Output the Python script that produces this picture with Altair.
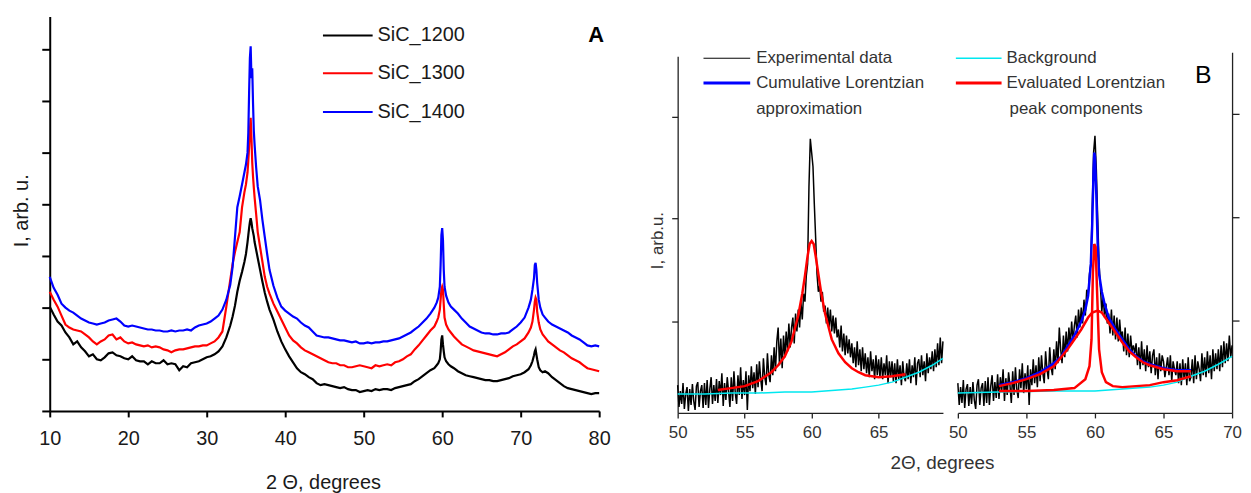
import altair as alt
import pandas as pd

W, H = 1243, 485

# ---------------- Panel A data (2 theta, intensity in arb. units) ----------------
X_A = [10, 10.5, 11, 11.5, 12, 12.5, 13, 13.5, 14, 14.5, 15, 15.5, 16, 16.5, 17, 17.5, 18, 18.5, 19, 19.5,
       20, 20.5, 21, 21.5, 22, 22.5, 23, 23.5, 24, 24.5, 25, 25.5, 26, 26.5, 27, 27.5, 28, 28.5, 29, 29.5,
       30, 30.5, 31, 31.5, 32,
       32.5, 33, 33.3, 33.6, 33.9, 34.2, 34.5, 34.8, 35.0, 35.2, 35.3, 35.4, 35.5, 35.6, 35.7, 35.8, 35.9,
       36.0, 36.1, 36.3, 36.5, 36.8, 37.1, 37.4, 37.7, 38.0, 38.5,
       39, 39.5, 40, 40.5, 41, 41.5, 42, 42.5, 43, 43.5, 44, 44.5, 45, 45.5, 46, 46.5, 47, 47.5, 48, 48.5,
       49, 49.5, 50, 50.5, 51, 51.5, 52, 52.5, 53, 53.5, 54, 54.5, 55, 55.5, 56, 56.5, 57, 57.5, 58, 58.5,
       59, 59.3, 59.5, 59.7, 59.8, 59.9, 60.0, 60.1, 60.2, 60.3, 60.5, 60.8, 61.1, 61.5,
       62, 62.5, 63, 63.5, 64, 64.5, 65, 65.5, 66, 66.5, 67, 67.5, 68, 68.5, 69, 69.5, 70, 70.5,
       71, 71.3, 71.5, 71.7, 71.8, 71.9, 72.0, 72.1, 72.3, 72.5, 72.8, 73.1, 73.5,
       74, 74.5, 75, 75.5, 76, 76.5, 77, 77.5, 78, 78.5, 79, 79.5, 80]

SIC_1200 = [105, 97, 90, 86, 79, 74, 67, 70, 64, 60, 55, 57, 52, 51, 54, 58, 59, 56, 55, 53,
            52, 55, 51, 50, 50, 47, 50, 48, 48, 51, 47, 48, 47, 41, 45, 44, 48, 49, 50, 52,
            54, 55, 57, 60, 65,
            74, 86, 95, 106, 120, 131, 140, 150, 158, 170, 177, 184, 190, 194, 190, 184, 180,
            176, 170, 162, 154, 142, 130, 119, 110, 102, 92,
            80, 70, 62, 55, 49, 43, 39, 37, 34, 32, 28, 26, 27, 26, 25, 24, 23, 24, 22, 21,
            21, 19, 20, 21, 20, 22, 21, 22, 22, 21, 23, 24, 25, 26, 27, 30, 32, 35, 38, 41,
            43, 46, 48, 52, 60, 72, 76, 67, 60, 54, 50, 47, 45, 43,
            40, 38, 36, 35, 34, 33, 32, 31, 31, 30, 30, 31, 32, 33, 35, 36, 37, 39,
            42, 46, 50, 56, 60, 62, 57, 52, 44, 41, 39, 40, 38,
            34, 31, 28, 25, 23, 22, 21, 20, 19, 18, 17, 18, 18]

SIC_1300 = [120, 112, 105, 96, 87, 84, 82, 81, 80, 77, 74, 70, 67, 70, 72, 76, 77, 72, 74, 70,
            68, 69, 67, 66, 65, 66, 64, 65, 64, 62, 61, 59, 61, 62, 62, 63, 64, 65, 65, 66,
            66, 68, 70, 74, 80,
            105, 132, 148, 160, 170, 180, 205, 220, 228, 240, 252, 265, 282, 295, 275, 250, 236,
            225, 215, 198, 180, 165, 150, 135, 125, 118, 108,
            100, 92, 84, 76, 71, 68, 64, 61, 59, 57, 55, 53, 51, 49, 48, 48, 46, 46, 44, 44,
            45, 46, 45, 44, 43, 46, 45, 46, 47, 46, 49, 50, 52, 55, 57, 62, 66, 71, 76, 81,
            85, 90, 94, 102, 112, 122, 125, 122, 107, 94, 87, 82, 79, 75,
            71, 67, 65, 63, 61, 60, 59, 58, 57, 56, 55, 57, 59, 62, 65, 67, 70, 73,
            79, 84, 90, 102, 110, 114, 112, 100, 89, 82, 77, 74, 70,
            67, 64, 61, 59, 56, 53, 51, 49, 46, 43, 42, 41, 40]

SIC_1400 = [135, 124, 117, 108, 104, 101, 99, 96, 93, 91, 89, 88, 87, 88, 89, 91, 92, 93, 90, 86,
            85, 86, 85, 84, 83, 82, 82, 81, 81, 80, 80, 81, 80, 81, 81, 82, 81, 84, 86, 87,
            88, 90, 93, 96, 102,
            112, 127, 145, 175, 205, 216, 228, 240, 248, 260, 280, 320, 355, 367, 335, 345, 310,
            282, 268, 245, 226, 212, 192, 175, 158, 142, 126,
            114, 105, 101, 98, 95, 93, 89, 86, 84, 80, 76, 75, 74, 74, 73, 72, 71, 71, 70, 69,
            70, 68, 68, 69, 68, 69, 69, 70, 70, 71, 72, 73, 75, 77, 79, 82, 85, 89, 93, 98,
            104, 109, 114, 125, 147, 177, 184, 172, 142, 125, 116, 109, 105, 102,
            98, 93, 89, 85, 83, 81, 79, 78, 78, 77, 77, 78, 78, 79, 82, 85, 89, 94,
            104, 112, 122, 134, 147, 149, 142, 129, 112, 104, 97, 94, 90,
            87, 85, 83, 81, 79, 76, 74, 72, 69, 66, 65, 66, 65]

SERIES_A = ["SiC_1200", "SiC_1300", "SiC_1400"]
COLORS_A = ["#000000", "#ff0000", "#0000ff"]

# ---------------- Panel B data ----------------
X_B = [50.0, 50.1, 50.2, 50.3, 50.4, 50.5, 50.6, 50.7, 50.8, 50.9,
       51.0, 51.1, 51.2, 51.3, 51.4, 51.5, 51.6, 51.7, 51.8, 51.9,
       52.0, 52.1, 52.2, 52.3, 52.4, 52.5, 52.6, 52.7, 52.8, 52.9,
       53.0, 53.1, 53.2, 53.3, 53.4, 53.5, 53.6, 53.7, 53.8, 53.9,
       54.0, 54.1, 54.2, 54.3, 54.4, 54.5, 54.6, 54.7, 54.8, 54.9,
       55.0, 55.1, 55.2, 55.3, 55.4, 55.5, 55.6, 55.7, 55.8, 55.9,
       56.0, 56.1, 56.2, 56.3, 56.4, 56.5, 56.6, 56.7, 56.8, 56.9,
       57.0, 57.1, 57.2, 57.3, 57.4, 57.5, 57.6, 57.7, 57.8, 57.9,
       58.0, 58.1, 58.2, 58.3, 58.4, 58.5, 58.6, 58.7, 58.8, 58.9,
       59.0, 59.1, 59.2, 59.3, 59.4, 59.5, 59.6, 59.7, 59.8, 59.9,
       60.0, 60.1, 60.2, 60.3, 60.4, 60.5, 60.6, 60.7, 60.8, 60.9,
       61.0, 61.1, 61.2, 61.3, 61.4, 61.5, 61.6, 61.7, 61.8, 61.9,
       62.0, 62.1, 62.2, 62.3, 62.4, 62.5, 62.6, 62.7, 62.8, 62.9,
       63.0, 63.1, 63.2, 63.3, 63.4, 63.5, 63.6, 63.7, 63.8, 63.9,
       64.0, 64.1, 64.2, 64.3, 64.4, 64.5, 64.6, 64.7, 64.8, 64.9,
       65.0, 65.1, 65.2, 65.3, 65.4, 65.5, 65.6, 65.7, 65.8, 65.9,
       66.0, 66.1, 66.2, 66.3, 66.4, 66.5, 66.6, 66.7, 66.8, 66.9,
       67.0, 67.1, 67.2, 67.3, 67.4, 67.5, 67.6, 67.7, 67.8, 67.9,
       68.0, 68.1, 68.2, 68.3, 68.4, 68.5, 68.6, 68.7, 68.8, 68.9,
       69.0, 69.1, 69.2, 69.3, 69.4, 69.5, 69.6, 69.7, 69.8, 69.9,
       70.0]

EXP_B1 = [28, 6, 22, 9, 30, 4, 19, 26, 2, 24,
          8, 29, 12, 3, 27, 31, 6, 22, 28, 5,
          30, 8, 33, 5, 24, 36, 9, 28, 12, 34,
          10, 32, 18, 40, 7, 30, 13, 36, 22, 6,
          36, 12, 42, 20, 9, 38, 18, 46, 14, 33,
          18, 42, 3, 38, 22, 47, 25, 41, 19, 49,
          26, 52, 34, 22, 55, 36, 28, 60, 38, 31,
          58, 38, 66, 42, 72, 86, 48, 75, 45, 78,
          56, 82, 62, 90, 66, 86, 96, 70, 100, 82,
          104, 86, 112, 94, 120, 112, 138, 150, 228, 276,
          262, 248, 210, 176, 140, 122, 128, 112, 122, 102,
          108, 90, 106, 86, 104, 82, 98, 80, 96, 76,
          84, 66, 88, 62, 80, 58, 78, 60, 74, 56,
          70, 50, 66, 46, 72, 48, 64, 42, 66, 44,
          60, 40, 56, 36, 62, 42, 54, 34, 58, 38,
          54, 36, 56, 34, 50, 38, 58, 30, 52, 36,
          52, 32, 50, 30, 54, 34, 48, 28, 52, 36,
          32, 50, 34, 54, 30, 48, 36, 56, 28, 50,
          54, 36, 58, 38, 52, 32, 60, 40, 56, 44,
          62, 42, 64, 46, 70, 48, 76, 50, 72]

EXP_B2 = [30, 8, 26, 10, 33, 5, 24, 29, 7, 26,
          9, 31, 13, 4, 28, 34, 8, 25, 30, 7,
          32, 10, 36, 8, 27, 38, 12, 31, 15, 39,
          14, 36, 22, 44, 12, 35, 18, 41, 28, 10,
          42, 18, 46, 24, 15, 44, 25, 50, 20, 40,
          24, 48, 8, 44, 28, 54, 30, 48, 26, 56,
          32, 58, 40, 30, 62, 44, 34, 66, 46, 38,
          64, 44, 72, 50, 86, 64, 50, 78, 56, 82,
          62, 86, 68, 92, 72, 88, 98, 76, 104, 86,
          106, 90, 114, 98, 124, 116, 140, 150, 205, 262,
          279, 245, 196, 150, 126, 102, 118, 96, 110, 90,
          100, 80, 104, 78, 98, 74, 96, 72, 94, 76,
          82, 62, 86, 58, 80, 56, 78, 62, 68, 60,
          70, 48, 66, 44, 72, 48, 64, 42, 68, 46,
          62, 40, 58, 64, 38, 56, 34, 60, 42, 58,
          52, 36, 46, 56, 38, 58, 32, 52, 44, 38,
          52, 30, 50, 28, 54, 34, 50, 28, 56, 32,
          36, 54, 30, 58, 34, 52, 44, 32, 60, 38,
          56, 36, 62, 40, 58, 34, 64, 42, 60, 44,
          64, 42, 68, 46, 72, 50, 70, 52, 78, 56,
          68]

BG_B1_X = [50, 52, 54, 56, 58, 60, 61, 62, 63, 64, 65, 66, 67, 68, 69, 69.8]
BG_B1_Y = [19, 19, 20, 20, 21, 21, 22, 23, 24, 26, 28, 31, 36, 41, 48, 55]

FIT_B1_X = [53, 54, 55, 56, 57, 57.5, 58, 58.5, 59, 59.3, 59.5, 59.7, 59.85, 60, 60.15, 60.3,
            60.5, 60.7, 61, 61.5, 62, 62.5, 63, 63.5, 64, 65, 66, 67]
FIT_B1_Y = [23, 25, 27, 32, 41, 48, 57, 72, 98, 120, 138, 158, 170, 173, 170, 158,
            140, 122, 100, 74, 60, 51, 45, 41, 38, 36, 37, 39]

BG_B2_X = [50, 53, 57, 60, 62, 64, 65, 66, 67, 68, 69, 70]
BG_B2_Y = [20, 21, 22, 22, 24, 26, 28, 31, 37, 42, 49, 57]

NARROW_B2_X = [53, 55, 57, 58.5, 59.3, 59.6, 59.75, 59.85, 59.95, 60.05, 60.15, 60.3, 60.5,
               60.8, 61.3, 62, 63, 64, 65, 66, 67]
NARROW_B2_Y = [22, 22, 23, 25, 34, 47, 74, 141, 170, 167, 124, 64, 41,
               31, 27, 26, 27, 28, 31, 33, 37]

BROAD_B2_X = [53, 54, 55, 56, 57, 58, 58.5, 59, 59.5, 59.8, 60.2, 60.5, 61, 61.5, 62, 62.5,
              63, 63.5, 64, 65, 66, 67]
BROAD_B2_Y = [27, 30, 34, 39, 47, 64, 74, 84, 96, 101, 103, 101, 91, 81, 71, 62,
              56, 51, 48, 44, 42, 42]

CUM_B2_X = [53, 54, 55, 56, 57, 57.5, 58, 58.5, 59, 59.3, 59.5, 59.7, 59.8, 59.9, 59.95, 60.0,
            60.1, 60.2, 60.3, 60.5, 60.7, 61, 61.5, 62, 62.5, 63, 63.5, 64, 65, 66, 67]
CUM_B2_Y = [28, 31, 35, 41, 50, 56, 67, 78, 92, 104, 118, 150, 190, 245, 262, 258,
            220, 170, 140, 122, 110, 96, 84, 74, 64, 57, 52, 49, 45, 43, 43]

LEGEND_B_LEFT = ["Experimental data", "Cumulative Lorentzian", "approximation"]
LEGEND_B_RIGHT = ["Background", "Evaluated Lorentzian", "peak components"]

FONT = "Liberation Sans"


def sc(dom, rng):
    return alt.Scale(domain=dom, range=rng, zero=False, nice=False)


# scales (pixel ranges inside the single plot area)
XA = sc([10, 80], [42, 595])
YA = sc([0, 397], [404, 7])
XB1 = sc([50, 69.8], [674, 941])
XB2 = sc([50, 70], [956, 1232])
YB1 = sc([0, 359], [406, 47])
YB2 = sc([0, 363], [406, 43])

axA_x = alt.Axis(orient="bottom", offset=404 - H, values=[10, 20, 30, 40, 50, 60, 70, 80], grid=False,
                 domainColor="black", domainWidth=2, tickColor="black", tickWidth=2, tickSize=6,
                 labelFont=FONT, labelFontSize=20, labelColor="#1a1a1a", labelPadding=12,
                 labelFlush=False, labelOverlap=False,
                 title="2 Θ, degrees", titleFont=FONT, titleFontSize=20, titleFontWeight="normal",
                 titleColor="#1a1a1a", titleX=317, titleY=78, titleAlign="center",
                 titleBaseline="alphabetic")
axA_y = alt.Axis(orient="left", offset=-42, values=[0, 52, 104, 156, 208, 260, 312, 364], grid=False,
                 labels=False, domainColor="black", domainWidth=2, tickColor="black", tickWidth=2,
                 tickSize=8, title="I, arb. u.", titleFont=FONT, titleFontSize=20,
                 titleFontWeight="normal", titleColor="#1a1a1a", titleAngle=-90, titleX=-22,
                 titleY=202, titleAlign="center", titleBaseline="alphabetic")

axB1_x = alt.Axis(orient="bottom", offset=406 - H, values=[50, 55, 60, 65], grid=False,
                  domainColor="#222222", domainWidth=1.3, tickColor="#222222", tickWidth=1.3, tickSize=5,
                  labelFont=FONT, labelFontSize=17, labelColor="#333333", labelPadding=7,
                  labelFlush=False, labelOverlap=False, title=None)
axB1_y = alt.Axis(orient="left", offset=-674, values=[92, 196, 298], grid=False, labels=False,
                  domainColor="#222222", domainWidth=1.3, tickColor="#222222", tickWidth=1.3, tickSize=6,
                  title="I, arb.u.", titleFont=FONT, titleFontSize=17, titleFontWeight="normal",
                  titleColor="#333333", titleAngle=-90, titleX=-15, titleY=232, titleAlign="center",
                  titleBaseline="alphabetic")
axB2_x = alt.Axis(orient="bottom", offset=406 - H, values=[50, 55, 60, 65, 70], grid=False,
                  domainColor="#222222", domainWidth=1.3, tickColor="#222222", tickWidth=1.3, tickSize=5,
                  labelFont=FONT, labelFontSize=17, labelColor="#333333", labelPadding=7,
                  labelFlush=False, labelOverlap=False,
                  title="2Θ, degrees", titleFont=FONT, titleFontSize=19, titleFontWeight="normal",
                  titleColor="#333333", titleX=940, titleY=50, titleAlign="center",
                  titleBaseline="middle")
axB2_y = alt.Axis(orient="right", offset=1232 - W, values=[93, 197, 301], grid=False, labels=False,
                  domainColor="#222222", domainWidth=1.3, tickColor="#222222", tickWidth=1.3, tickSize=7,
                  title=None)


def line(df, xs, ys, color, width, xaxis=None, yaxis=None, interp="linear"):
    return alt.Chart(df).mark_line(color=color, strokeWidth=width, interpolate=interp).encode(
        x=alt.X("x:Q", scale=xs, axis=xaxis),
        y=alt.Y("y:Q", scale=ys, axis=yaxis),
    )


layers = []

# ----- Panel A -----
for i, (name, vals, col) in enumerate(zip(SERIES_A, [SIC_1200, SIC_1300, SIC_1400], COLORS_A)):
    df = pd.DataFrame({"x": X_A, "y": vals})
    layers.append(line(df, XA, YA, col, 2.2,
                       xaxis=axA_x if i == 0 else None,
                       yaxis=axA_y if i == 0 else None))

legA_y = [26, 64, 103]
for name, col, yy in zip(SERIES_A, COLORS_A, legA_y):
    d = pd.DataFrame({"label": [name]})
    layers.append(alt.Chart(d).mark_rule(color=col, strokeWidth=2).encode(
        x=alt.value(317), x2=alt.value(367), y=alt.value(yy)))
    layers.append(alt.Chart(d).mark_text(align="left", baseline="middle", font=FONT, fontSize=20,
                                         color="#1a1a1a").encode(
        x=alt.value(372), y=alt.value(yy), text="label:N"))

layers.append(alt.Chart(pd.DataFrame({"label": ["A"]})).mark_text(
    align="center", baseline="middle", font=FONT, fontSize=22, fontWeight="bold", color="black").encode(
    x=alt.value(592), y=alt.value(26), text="label:N"))

# ----- Panel B, left -----
dfe1 = pd.DataFrame({"x": X_B[:len(EXP_B1)], "y": EXP_B1})
layers.append(line(dfe1, XB1, YB1, "#000000", 1.5, xaxis=axB1_x, yaxis=axB1_y))
layers.append(line(pd.DataFrame({"x": BG_B1_X, "y": BG_B1_Y}), XB1, YB1, "#00e8f0", 1.5))
layers.append(line(pd.DataFrame({"x": FIT_B1_X, "y": FIT_B1_Y}), XB1, YB1, "#ff0000", 2.5))

# ----- Panel B, right -----
dfe2 = pd.DataFrame({"x": X_B[:len(EXP_B2)], "y": EXP_B2})
layers.append(line(dfe2, XB2, YB2, "#000000", 1.5, xaxis=axB2_x, yaxis=axB2_y))
layers.append(line(pd.DataFrame({"x": BG_B2_X, "y": BG_B2_Y}), XB2, YB2, "#00e8f0", 1.5))
layers.append(line(pd.DataFrame({"x": CUM_B2_X, "y": CUM_B2_Y}), XB2, YB2, "#0000ff", 2.5))
layers.append(line(pd.DataFrame({"x": BROAD_B2_X, "y": BROAD_B2_Y}), XB2, YB2, "#ff0000", 2.5))
layers.append(line(pd.DataFrame({"x": NARROW_B2_X, "y": NARROW_B2_Y}), XB2, YB2, "#ff0000", 2.5))

# ----- Panel B legend -----
legB_y = [49, 74, 100]
symB_left = [("#000000", 1), ("#0000ff", 3)]
symB_right = [("#00e8f0", 1.5), ("#ff0000", 3)]
for (col, wdt), yy in zip(symB_left, legB_y):
    layers.append(alt.Chart(pd.DataFrame({"label": ["s"]})).mark_rule(color=col, strokeWidth=wdt).encode(
        x=alt.value(700), x2=alt.value(747), y=alt.value(yy)))
for (col, wdt), yy in zip(symB_right, legB_y):
    layers.append(alt.Chart(pd.DataFrame({"label": ["s"]})).mark_rule(color=col, strokeWidth=wdt).encode(
        x=alt.value(954), x2=alt.value(1000), y=alt.value(yy)))
for txt, yy in zip(LEGEND_B_LEFT, legB_y):
    layers.append(alt.Chart(pd.DataFrame({"label": [txt]})).mark_text(
        align="left", baseline="middle", font=FONT, fontSize=17, color="#333333").encode(
        x=alt.value(753), y=alt.value(yy), text="label:N"))
for i, (txt, yy) in enumerate(zip(LEGEND_B_RIGHT, legB_y)):
    layers.append(alt.Chart(pd.DataFrame({"label": [txt]})).mark_text(
        align="left", baseline="middle", font=FONT, fontSize=17, color="#333333").encode(
        x=alt.value(1008 if i == 2 else 1005), y=alt.value(yy), text="label:N"))

layers.append(alt.Chart(pd.DataFrame({"label": ["B"]})).mark_text(
    align="center", baseline="middle", font=FONT, fontSize=25, color="black").encode(
    x=alt.value(1203), y=alt.value(66), text="label:N"))

chart = alt.layer(*layers).resolve_scale(
    x="independent", y="independent"
).resolve_axis(
    x="independent", y="independent"
).properties(
    width=W, height=H, autosize=alt.AutoSizeParams(type="none"), padding=0
).configure(font=FONT).configure_view(stroke=None)

chart.save("out.html", embed_options={"renderer": "svg", "actions": False})
